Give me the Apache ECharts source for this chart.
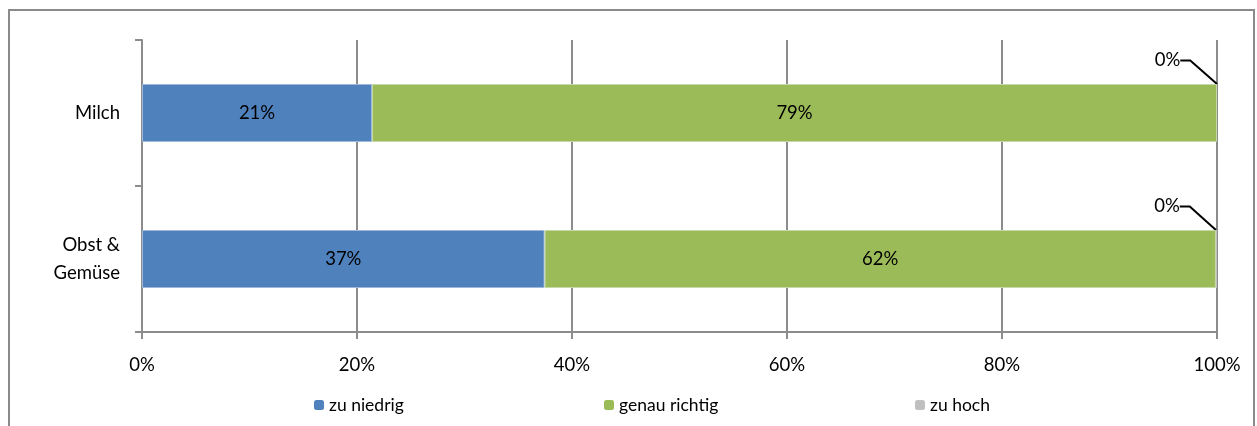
<!DOCTYPE html>
<html>
<head>
<meta charset="utf-8">
<script src="https://cdn.jsdelivr.net/npm/echarts@6/dist/echarts.min.js"></script>
<style>
html,body{margin:0;padding:0;background:#fff;}
#chart{width:1257px;height:426px;}
</style>
</head>
<body>
<div id="chart"></div>
<script>
var categories = ['Milch', 'Obst &\nGemüse'];
var zuNiedrig = [21.4, 37.45];
var genauRichtig = [78.6, 62.45];
var zuHoch = [0, 0.1];
var xTicks = [0, 20, 40, 60, 80, 100];

var FONT = 'Lato';
var FS = 18.5;
var chart = echarts.init(document.getElementById('chart'));
function pct(p){ return Math.round(p.value) + '%'; }
var legTxt = {fontFamily: FONT, fontSize: 17.5, color: '#000'};
var option = {
  animation: false,
  textStyle: {fontFamily: FONT},
  graphic: [{
    type: 'rect', silent: true,
    shape: {x: 9, y: 10, width: 1245, height: 430},
    style: {fill: 'none', stroke: '#8a8a8a', lineWidth: 2}
  }],
  grid: {left: 142, right: 40, top: 40, bottom: 94},
  legend: [
    {left: 309, top: 391, itemWidth: 10, itemHeight: 10, itemGap: 4, itemStyle: {borderWidth: 0}, data: ['zu niedrig'], textStyle: legTxt},
    {left: 599, top: 391, itemWidth: 10, itemHeight: 10, itemStyle: {borderWidth: 0}, data: ['genau richtig'], textStyle: legTxt},
    {left: 910, top: 391, itemWidth: 10, itemHeight: 10, itemStyle: {borderWidth: 0}, data: ['zu hoch'], textStyle: legTxt}
  ],
  xAxis: {
    type: 'value', min: 0, max: 100, interval: 20,
    axisLine: {show: true, lineStyle: {color: '#8c8c8c', width: 2}},
    axisTick: {show: true, length: 7, lineStyle: {color: '#8c8c8c', width: 2}},
    splitLine: {show: true, lineStyle: {color: '#8c8c8c', width: 2}},
    axisLabel: {formatter: '{value}%', fontFamily: FONT, fontSize: FS, color: '#000', margin: 24}
  },
  yAxis: {
    type: 'category', data: categories, inverse: true,
    axisLine: {show: true, lineStyle: {color: '#8c8c8c', width: 2}},
    axisTick: {show: true, length: 7, lineStyle: {color: '#8c8c8c', width: 2}},
    axisLabel: {fontFamily: FONT, fontSize: FS, color: '#000', margin: 22, lineHeight: 28}
  },
  series: [
    {name: 'zu niedrig', type: 'bar', stack: 'a', barWidth: 58, data: zuNiedrig,
     itemStyle: {color: '#4F81BD', borderColor: '#9fb8da', borderWidth: 1},
     label: {show: true, position: 'inside', formatter: pct, color: '#000', fontFamily: FONT, fontSize: FS}},
    {name: 'genau richtig', type: 'bar', stack: 'a', barWidth: 58, data: genauRichtig,
     itemStyle: {color: '#9BBB59', borderColor: '#c6d9a6', borderWidth: 1},
     label: {show: true, position: 'inside', formatter: pct, color: '#000', fontFamily: FONT, fontSize: FS}},
    {name: 'zu hoch', type: 'bar', stack: 'a', barWidth: 58, data: zuHoch,
     itemStyle: {color: '#BFBFBF'},
     label: {show: true, position: 'top', formatter: pct, color: '#000', fontFamily: FONT, fontSize: FS, distance: 0, padding: [0, 3, 0, 0]},
     labelLayout: {dx: -48, dy: -14},
     labelLine: {show: true, length2: 10, lineStyle: {color: '#000', width: 2}}}
  ]
};
chart.setOption(option);
</script>
</body>
</html>
